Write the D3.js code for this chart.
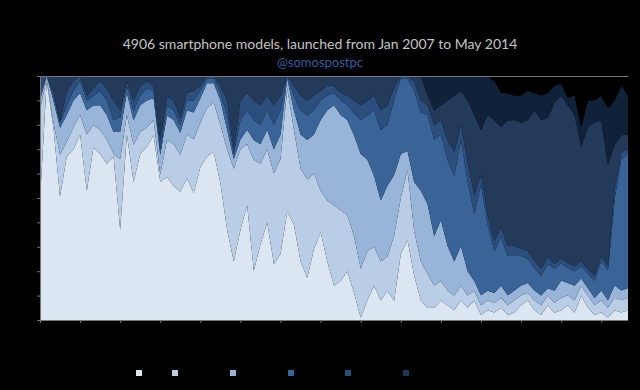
<!DOCTYPE html>
<html><head><meta charset="utf-8">
<script src="https://cdn.jsdelivr.net/npm/d3@7"></script>
<style>html,body{margin:0;padding:0;background:#000;}svg{display:block;}</style>
</head><body>
<svg id="c" width="640" height="390"></svg>
<script>
const title = "4906 smartphone models, launched from Jan 2007 to May 2014";
const subtitle = "@somospostpc";
const seriesNames = ["s1","s2","s3","s4","s5","s6","s7","s8"];
const colors = ["#dce6f2","#bacde6","#98b5d9","#3a6397","#2c4e7d","#233a5a","#10213a","#000000"];
const months = d3.range(89);
const s1 = [49,98,79,50,67,70,76,53,70,68, 64,67,37,76,56,68,71,75,56,58, 55,52,58,52,62,67,69,56,37,24, 37,47,20,31,40,23,27,44,39,24, 17,29,36,24,14,16,20,11,1,8, 14,8,12,8,27,33,18,8,5,5, 8,6,4,8,5,8,2,4,3,5, 2,3,6,8,4,2,6,3,4,6, 3,10,5,2,3,1,4,3,4];
const s2 = [37,1,2,17,6,9,8,23,9,10, 10,1,29,8,15,9,8,6,3,15, 17,15,18,22,18,20,20,24,33,38, 33,25,45,33,30,37,39,50,39,38, 40,31,17,25,33,29,23,23,20,20, 16,16,14,27,23,29,18,16,14,9, 8,6,6,6,5,4,4,4,4,4, 4,5,4,3,4,4,4,4,5,4, 5,4,5,4,5,4,5,5,5];
const s3 = [4,1,9,11,11,11,9,10,8,10, 10,9,11,9,10,11,11,9,8,10, 10,9,10,11,10,10,8,10,8,4, 4,6,8,8,8,10,10,4,8,14, 16,16,29,37,41,39,39,41,47,37, 29,25,29,25,18,8,20,29,29,20, 25,18,14,16,10,4,4,4,4,5, 4,4,4,4,4,4,3,5,7,5, 6,3,3,3,4,3,5,4,4];
const s4 = [3,0,2,2,4,4,5,4,4,6, 6,5,6,3,4,4,5,3,2,4, 4,3,4,5,3,2,2,3,6,2, 8,8,8,8,8,10,10,1,6,10, 10,10,8,6,5,6,6,9,14,18, 27,29,25,31,31,30,37,32,37,39, 35,35,35,43,37,27,45,27,17,20, 16,14,12,10,9,8,10,9,7,6, 6,5,6,7,12,12,35,53,55];
const s5 = [7,0,2,0,6,4,2,2,3,4, 5,8,3,2,4,4,3,2,4,4, 4,3,3,4,2,1,1,3,6,2, 8,7,8,8,6,8,6,0,4,6, 6,6,4,4,3,3,4,5,6,6, 6,8,8,5,1,1,4,5,4,6, 6,8,10,6,8,8,4,4,4,4, 4,4,3,3,3,3,3,2,2,2, 2,2,2,2,2,2,4,3,2];
const s6 = [0,0,6,19,6,2,0,8,5,2, 5,10,14,2,10,4,2,4,26,8, 10,17,7,6,4,0,0,4,10,30, 10,7,10,12,8,12,8,0,4,8, 10,8,6,4,4,7,8,10,12,10, 8,14,12,5,0,0,2,10,4,6, 6,16,23,14,25,33,18,41,49,41, 51,51,51,53,61,61,57,66,66,64, 62,47,58,63,55,41,18,7,6];
const s7 = [0,0,0,0,0,0,0,0,0,0, 0,0,0,0,0,0,0,0,0,0, 0,0,0,0,0,0,0,0,0,0, 0,0,0,0,0,0,0,0,0,0, 0,0,0,0,0,0,0,0,0,0, 0,0,0,0,0,0,0,0,8,14, 12,10,8,6,10,16,22,16,16,14, 11,10,11,12,7,10,10,7,5,3, 8,8,11,9,10,23,18,20,16];
const s8 = [0,0,0,0,0,0,0,0,0,0, 0,0,0,0,0,0,0,0,0,0, 0,0,0,0,0,0,0,0,0,0, 0,0,0,0,0,0,0,0,0,0, 0,0,0,0,0,0,0,0,0,0, 0,0,0,0,0,0,0,0,0,0, 0,0,0,0,0,0,0,0,2,7, 7,8,8,6,7,8,7,4,3,9, 8,21,10,10,8,13,10,4,8];
const legendColors = ["#dce6f2","#bacde6","#98b5d9","#3a6397","#2c4e7d","#1f3656"];
const legendOffsets = [0,36,94,152,209,267];

const svg = d3.select("#c");
svg.append("rect").attr("width",640).attr("height",390).attr("fill","#000");
const M = {left:40, right:628, top:76, bottom:320};
const x = d3.scaleLinear().domain([0,88]).range([M.left,M.right]);
const y = d3.scaleLinear().domain([0,1]).range([M.bottom,M.top]);
const all = [s1,s2,s3,s4,s5,s6,s7,s8];
const table = months.map(i => { const o = {i}; seriesNames.forEach((k,j)=>o[k]=all[j][i]); return o; });
const stack = d3.stack().keys(seriesNames).offset(d3.stackOffsetExpand);
const layers = stack(table);
const area = d3.area().x(d=>x(d.data.i)).y0(d=>y(d[0])).y1(d=>y(d[1])).curve(d3.curveLinear);
svg.append("g").selectAll("path").data(layers).join("path")
  .attr("d",area).attr("fill",(d,j)=>colors[j]);

const axisCol = "#777";
const gx = svg.append("g").attr("transform",`translate(0,${M.bottom})`)
  .call(d3.axisBottom(x).tickValues(d3.range(0,89,6)).tickSize(3).tickSizeOuter(0).tickFormat(""));
const gy = svg.append("g").attr("transform",`translate(${M.left},0)`)
  .call(d3.axisLeft(y).ticks(10).tickSize(3).tickSizeOuter(0).tickFormat(""));
const gt = svg.append("g").attr("transform",`translate(0,${M.top})`)
  .call(d3.axisTop(x).tickValues([]).tickSizeOuter(0));
[gx,gy,gt].forEach(g=>{g.selectAll("path,line").attr("stroke",axisCol);});
gx.select(".domain").attr("d",`M${M.left-3},0.5H${M.right}`);

svg.append("text").attr("x",320).attr("y",49).attr("text-anchor","middle")
  .attr("font-family","Lato, 'Open Sans', sans-serif").attr("font-size",14).attr("fill","#c4c4c4").text(title);
svg.append("text").attr("x",320).attr("y",67).attr("text-anchor","middle")
  .attr("font-family","Lato, 'Open Sans', sans-serif").attr("font-size",13).attr("fill","#2d5e9c").text(subtitle);

svg.append("g").selectAll("rect").data(legendColors).join("rect")
  .attr("x",(d,j)=>136+legendOffsets[j]).attr("y",370).attr("width",6).attr("height",6)
  .attr("fill",d=>d);
</script>
</body></html>
